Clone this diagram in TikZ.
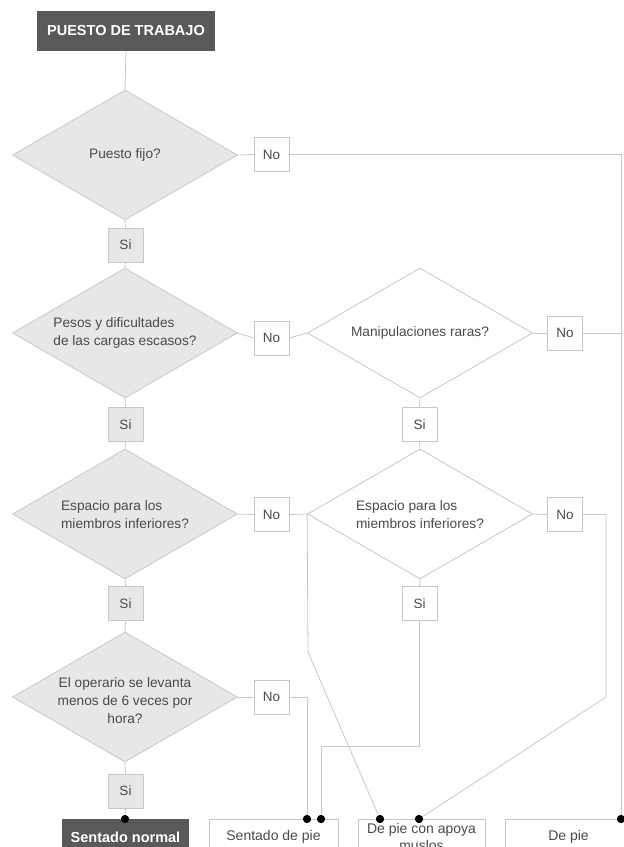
\documentclass[tikz,border=0pt]{standalone}
\usepackage{fontspec}
\setmainfont{Liberation Sans}
\usetikzlibrary{shapes.geometric}
\definecolor{dark}{HTML}{58595B}
\definecolor{lfill}{HTML}{E6E7E8}
\definecolor{lline}{HTML}{C6C7C8}
\definecolor{txt}{HTML}{4A4A4A}
\newcommand\dtxt[3][l]{\raisebox{#2}{\smash{\makebox[0pt]{\begin{tabular}{@{}#1@{}}#3\end{tabular}}}}}
\begin{document}
\begin{tikzpicture}[x=1pt,y=-1pt,
  dec/.style={diamond, draw=lline, line width=0.8pt, minimum width=225pt, minimum height=130pt, inner sep=0pt, font=\fontsize{13.7}{17.8}\selectfont, text=txt},
  gdec/.style={dec, fill=lfill},
  wdec/.style={dec, fill=white},
  ans/.style={draw=lline, line width=0.8pt, minimum width=35pt, minimum height=34pt, inner sep=0pt, font=\fontsize{13.5}{15}\selectfont, text=txt},
  si/.style={ans, fill=lfill},
  no/.style={ans, fill=white},
  conn/.style={draw=lline, line width=0.8pt},
  dot/.style={circle, fill=black, inner sep=0pt, minimum size=8pt},
  darkbox/.style={fill=dark, text=white, font=\bfseries\fontsize{14.5}{16}\selectfont, inner sep=0pt},
  outbox/.style={draw=lline, line width=0.8pt, fill=white, text=txt, font=\fontsize{14}{17}\selectfont, inner sep=0pt, align=center, minimum height=36pt}
]
\path[use as bounding box] (0,0) rectangle (624,847);
\clip (0,0) rectangle (624,847);

% nodes
\node[darkbox, minimum width=178pt, minimum height=40pt] (start) at (126,31) {PUESTO DE TRABAJO};

\node[gdec] (d1) at (125,155) {\dtxt[c]{-6.4pt}{Puesto fijo?}};
\node[no] (no1) at (271.5,154.5) {No};
\node[si] (si1) at (125.5,245) {Si};

\node[gdec] (d2) at (125,333) {\dtxt{-6.5pt}{Pesos y dificultades\\de las cargas escasos?}};
\node[no] (no2) at (271.5,338) {No};
\node[wdec] (d3) at (420,333) {\dtxt[c]{-6.4pt}{Manipulaciones raras?}};
\node[no] (no3) at (565,333) {No};
\node[si] (si2) at (125.5,424.5) {Si};
\node[no] (si3) at (419.5,424.5) {Si};

\node[gdec] (d4) at (125,514) {\dtxt{-10.5pt}{Espacio para los\\miembros inferiores?}};
\node[no] (no4) at (271.5,514.5) {No};
\node[wdec] (d5) at (420,514) {\dtxt{-10.5pt}{Espacio para los\\miembros inferiores?}};
\node[no] (no5) at (565,514.5) {No};
\node[si] (si4) at (125.5,603.5) {Si};
\node[no] (si5) at (419.5,603.5) {Si};

\node[gdec] (d6) at (125,697) {\dtxt[c]{-16.5pt}{El operario se levanta\\menos de 6 veces por\\hora?}};
\node[no] (no6) at (271.5,697) {No};
\node[si] (si6) at (125.5,791) {Si};

% bottom boxes
\node[darkbox, minimum width=127pt, minimum height=36pt] (b1) at (125.5,837) {Sentado normal};
\node[outbox, minimum width=129pt] (b2) at (273.5,837) {Sentado de pie};
\node[outbox, minimum width=127pt] (b3) at (421.5,837) {De pie con apoya\\muslos};
\node[outbox, minimum width=127pt] (b4) at (568.5,837) {De pie};

% turning points
\coordinate (r1) at (621,154.5);
\coordinate (r3) at (621,333);
\coordinate (k4) at (308,652);
\coordinate (k5a) at (606,514.5);
\coordinate (k5b) at (606,697);
\coordinate (k6a) at (419.5,746);
\coordinate (k6b) at (321,746);
\coordinate (k7) at (307,697);

% connectors
\draw[conn] (start.south) -- (d1.north);
\draw[conn] (d1.east) -- (no1.west);
\draw[conn] (d1.south) -- (si1.north);
\draw[conn] (si1.south) -- (d2.north);
\draw[conn] (d2.east) -- (no2.west);
\draw[conn] (no2.east) -- (d3.west);
\draw[conn] (d3.east) -- (no3.west);
\draw[conn] (d2.south) -- (si2.north);
\draw[conn] (si2.south) -- (d4.north);
\draw[conn] (d3.south) -- (si3.north);
\draw[conn] (si3.south) -- (d5.north);
\draw[conn] (d4.east) -- (no4.west);
\draw[conn] (d5.east) -- (no5.west);
\draw[conn] (d4.south) -- (si4.north);
\draw[conn] (si4.south) -- (d6.north);
\draw[conn] (d5.south) -- (si5.north);
\draw[conn] (d6.east) -- (no6.west);
\draw[conn] (d6.south) -- (si6.north);

% dots
\node[dot] (p1) at (125,819) {};
\node[dot] (p2) at (307,819) {};
\node[dot] (p3) at (321,819) {};
\node[dot] (p4) at (380,819) {};
\node[dot] (p5) at (419,819) {};
\node[dot] (p6) at (621,819) {};

\draw[conn] (no1.east) -- (r1) -- (p6.center);
\draw[conn] (no3.east) -- (r3);
\draw[conn] (no4.east) -- (d5.west) -- (k4) -- (p4.center);
\draw[conn] (no5.east) -- (k5a) -- (k5b) -- (p5.center);
\draw[conn] (si5.south) -- (k6a) -- (k6b) -- (p3.center);
\draw[conn] (no6.east) -- (k7) -- (p2.center);
\draw[conn] (si6.south) -- (p1.center);

\foreach \p in {p1,p2,p3,p4,p5,p6} \fill[black] (\p) circle (4pt);
\end{tikzpicture}
\end{document}
